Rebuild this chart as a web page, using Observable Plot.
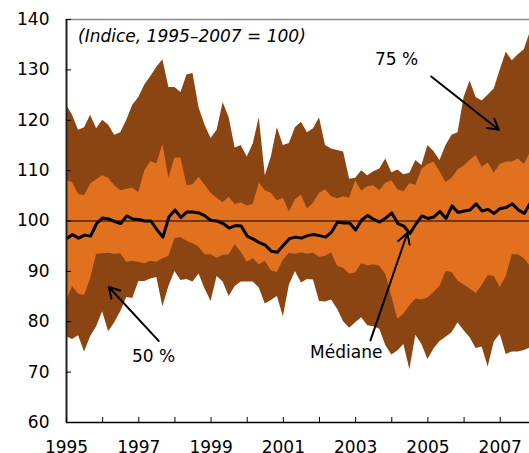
<!DOCTYPE html>
<html><head><meta charset="utf-8">
<script src="https://cdn.jsdelivr.net/npm/d3@7"></script>
<script src="https://cdn.jsdelivr.net/npm/@observablehq/plot@0.6"></script>
<style>body{margin:0;background:#fff} svg{display:block}</style>
</head><body><div id="chart"></div>
<script>
// Bi-monthly observations, Jan 1995 – Nov 2007
const startYear = 1995, stepsPerYear = 6;
const hi2 = [123,121,118,118.5,121,118.3,120,119,117,117.5,
  120,123,124.5,127,128.7,130.5,132,126.5,126.5,125.5,
  129,129.3,122.5,119,116.4,118,123.5,120.5,114.5,115,
  112.7,115.3,120.5,109,112.7,118.5,115,115.4,118.5,119.6,
  117.5,118.3,120.5,115,114.3,114,113.7,108.3,108.5,110,
  109,109.8,110.3,112.3,109.6,110.1,109.2,109.5,112,111,
  115,113.8,112,115,117,117.5,124.5,127.8,124.5,123.8,
  125,126.2,130,133.5,131.8,133,134,137.5];
const hi1 = [108.1,107.6,105.3,105,107.3,108.2,109,108.5,107,106,
  106.3,106.5,105.6,110,111.8,111.3,115.2,108.5,112.5,112.5,
  107,107.2,108.7,107.1,105.5,104.5,103.6,104.7,103.3,103.6,
  103,103.3,107.5,106,105.5,104,104.5,101.8,104.2,105.1,
  102.4,103.5,105.5,106.2,104.8,104.4,104.8,104.5,108,105.9,
  106.8,107,106,107.5,108,106.2,105.8,107.4,107.1,110.2,
  111.2,111.7,109.8,107.6,108.5,110.1,110.9,112,113,110.6,
  111.5,109.5,111.2,111.7,111.7,112.3,111.2,113.5];
const lo1 = [84,87,85.5,85.2,88.5,93.4,93.5,93.6,93.4,93.5,
  91.8,92,91.8,91.5,92,91.8,92.5,93,96.5,96.7,
  96,95.5,94.8,93.3,93.3,92.6,93.2,93.3,95.3,93.8,
  91.8,92.5,91.3,92,90.1,89.8,92.2,93.6,93.4,93.7,
  93.4,93.6,92.8,93,93.7,91,90.6,89.5,89.7,91.5,
  91.1,91.3,91,89.4,85,80.5,81.5,83.2,84.5,84.3,
  84.7,85.8,87,90,89.8,88.1,87.3,86.5,85.6,87.2,
  89.2,89,86.8,89,93.3,93.3,92.5,91];
const lo2 = [77,76.5,77.2,74,77,79,82,78,79.8,82,
  84.8,84.6,88,88,88.5,88.8,83,87,90,88.2,
  88.4,87.9,89.5,86.5,84,89,87.9,85,87,87.9,
  87.9,87.9,86.7,83.5,84.2,85,81,87.3,90,87.7,
  88.4,88.3,84,83.9,84.3,82.5,80,78.7,79.8,80.8,
  79.2,79,78.5,75.3,73.4,74.2,75.5,70.5,77.3,75.5,
  72.5,74.6,76.1,76.9,77.8,79.8,78.2,76.8,74.7,75,
  71,76,77.5,73.5,74,74,74.3,74.8];
const median = [96.5,97.3,96.6,97.2,97,99.5,100.6,100.4,99.9,99.5,
  101,100.4,100.3,100,100,98.3,96.8,100.8,102.2,100.7,
  101.8,101.8,101.6,101,100.1,100,99.5,98.6,99.1,99,
  97,96.4,95.7,95.2,94,93.8,95.2,96.5,96.8,96.6,
  97.1,97.3,97.1,96.8,97.8,99.8,99.6,99.6,98.2,100.2,
  101.1,100.3,99.8,100.6,101.6,99.5,99,97.5,99.4,101,
  100.5,100.8,101.9,100.5,103,101.7,102,102.2,103.4,102,
  102.3,101.5,102.5,102.7,103.4,102.2,101.5,103.6];

const yTicks = [60,70,80,90,100,110,120,130,140];
const xTicks = [1995,1996,1997,1998,1999,2000,2001,2002,2003,2004,2005,2006,2007];
const xLabels = [1995,1997,1999,2001,2003,2005,2007];

const subtitle = [{x: 1995.32, y: 136.6, text: "(Indice, 1995–2007 = 100)"}];
const labels = [
  {x: 2004.13, y: 132.1, text: "75 %"},
  {x: 1997.41, y: 73.1, text: "50 %"},
  {x: 2002.74, y: 73.9, text: "Médiane"}
];
const arrows = [
  {x1: 2005.09, y1: 128.7, x2: 2006.96, y2: 118.1},
  {x1: 1997.55, y1: 76.2, x2: 1996.17, y2: 86.9},
  {x1: 2003.41, y1: 76.3, x2: 2004.43, y2: 97.6}
];

const data = median.map((m, i) => ({
  t: startYear + i / stepsPerYear,
  hi2: hi2[i], hi1: hi1[i], lo1: lo1[i], lo2: lo2[i], med: m
}));

const chart = Plot.plot({
  width: 529, height: 453,
  marginLeft: 66, marginRight: 0, marginTop: 19, marginBottom: 31,
  style: {fontFamily: "DejaVu Sans", fontSize: "17px", color: "#000", background: "#fff"},
  x: {domain: [1995, 2007.81]},
  y: {domain: [60, 140]},
  marks: [
    Plot.areaY(data, {x: "t", y1: "lo2", y2: "hi2", fill: "#8b4513", clip: true}),
    Plot.areaY(data, {x: "t", y1: "lo1", y2: "hi1", fill: "#e2711f", clip: true}),
    Plot.ruleY([100], {stroke: "#000", strokeWidth: 1}),
    Plot.lineY(data, {x: "t", y: "med", stroke: "#000", strokeWidth: 3, strokeLinejoin: "round", clip: true}),
    Plot.ruleY([140], {stroke: "#888", strokeWidth: 1.5}),
    Plot.ruleY([60], {stroke: "#000", strokeWidth: 1.5}),
    Plot.ruleX([1995], {stroke: "#222", strokeWidth: 2}),
    Plot.tickY(yTicks, {y: d => d, insetRight: 458, stroke: "#000"}),
    Plot.tickX(xTicks, {x: d => d, insetTop: 398, stroke: "#000"}),
    Plot.axisY({ticks: yTicks, tickSize: 0, tickPadding: 17, label: null, tickFormat: d => String(d)}),
    Plot.axisX({ticks: xLabels, tickSize: 0, tickPadding: 18, label: null, tickFormat: d => String(d)}),
    Plot.text(subtitle, {x: "x", y: "y", text: "text", textAnchor: "start", fontStyle: "italic", fontSize: 17, fill: "#000"}),
    Plot.text(labels, {x: "x", y: "y", text: "text", textAnchor: "middle", fontSize: 17, fill: "#000"}),
    Plot.arrow(arrows, {x1: "x1", y1: "y1", x2: "x2", y2: "y2", stroke: "#000", strokeWidth: 2, headLength: 9})
  ]
});
document.getElementById("chart").appendChild(chart);
</script>
</body></html>
